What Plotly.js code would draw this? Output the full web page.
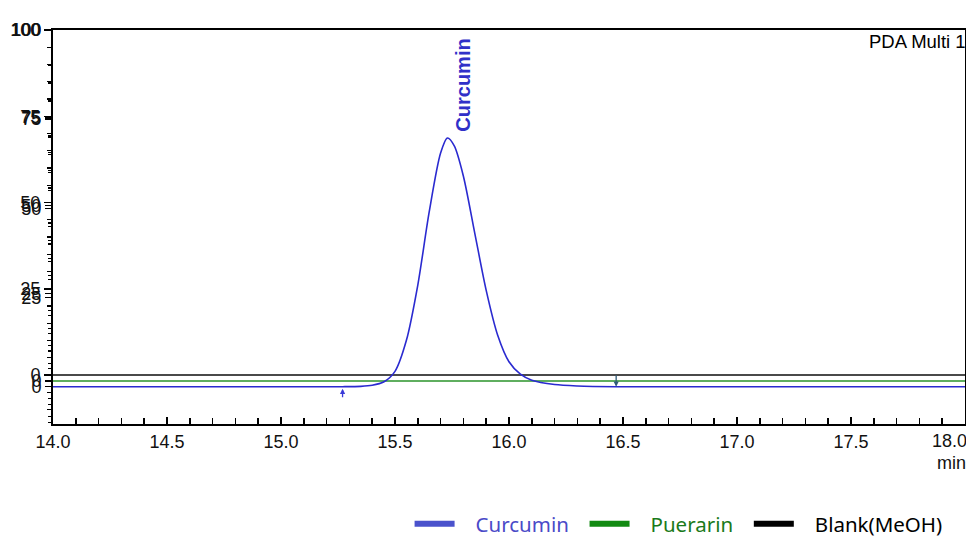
<!DOCTYPE html>
<html>
<head>
<meta charset="utf-8">
<script src="https://cdn.plot.ly/plotly-3.0.1.min.js"></script>
<style>html,body{margin:0;padding:0;background:#fff;}#chart{width:966px;height:538px;}</style>
</head>
<body>
<div id="chart"></div>
<script>
// Data (retention time in min, signal in mAU)
const curcuminTime   = [14.0, 15.27, 15.35, 15.40, 15.45, 15.50, 15.55, 15.60, 15.65, 15.70, 15.73, 15.76, 15.80, 15.85, 15.90, 15.95, 16.00, 16.05, 16.10, 16.20, 16.30, 16.47, 18.0];
const curcuminSignal = [0, 0, 0.1, 0.4, 1.3, 4.3, 13, 28.5, 49, 65.5, 69.7, 67.5, 59, 43, 27, 14.5, 7, 3.5, 1.8, 0.6, 0.2, 0, 0];
const puerarinTime   = [14.0, 18.0];
const puerarinSignal = [0, 0];
const blankTime      = [14.0, 18.0];
const blankSignal    = [0, 0];
const yTickVals      = [0, 25, 50, 75, 100];
const xLastTick      = 18.0;
const peakStart      = 15.27;
const peakEnd        = 16.47;
const peakLabelTime  = 15.80;

const tickFont = {family: 'Liberation Sans, Arial, sans-serif', size: 18, color: '#111'};
const pad = '\u00a0\u00a0\u00a0';
const tail = '\u00a0\u00a0';

const traces = [
  {x: blankTime, y: blankSignal, yaxis: 'y', mode: 'lines', line: {color: '#4a4a4a', width: 2}, showlegend: false, hoverinfo: 'skip'},
  {x: puerarinTime, y: puerarinSignal, yaxis: 'y2', mode: 'lines', line: {color: '#5fae5f', width: 2}, showlegend: false, hoverinfo: 'skip'},
  {x: curcuminTime, y: curcuminSignal, yaxis: 'y3', mode: 'lines', line: {color: '#2a2ad0', width: 1.6, shape: 'spline', smoothing: 0.8}, showlegend: false, hoverinfo: 'skip'},
  // legend entries
  {x: [null], y: [null], mode: 'lines', line: {color: '#4a52cc', width: 6}, name: '<span style="color:#4a4ac8">' + pad + 'Curcumin' + tail + '</span>'},
  {x: [null], y: [null], mode: 'lines', line: {color: '#128a12', width: 6}, name: '<span style="color:#1a7a1a">' + pad + 'Puerarin' + tail + '</span>'},
  {x: [null], y: [null], mode: 'lines', line: {color: '#000000', width: 6}, name: pad + 'Blank(MeOH)'}
];

function yAx(range, extra) {
  return Object.assign({
    range: range, tickvals: yTickVals, ticks: 'outside', ticklen: 7, tickwidth: 1.5, tickcolor: '#000',
    showgrid: false, zeroline: false, tickfont: tickFont,
    minor: {dtick: 5, ticks: 'outside', ticklen: 4, tickcolor: '#000', tickwidth: 1.2, showgrid: false}
  }, extra || {});
}

const layout = {
  width: 966, height: 538,
  margin: {l: 53, r: 1, t: 30, b: 114},
  paper_bgcolor: '#fff', plot_bgcolor: '#fff',
  showlegend: true,
  legend: {orientation: 'h', xref: 'container', yref: 'container', x: 0.424, xanchor: 'left', y: 0.026, yanchor: 'middle',
           font: {family: 'Noto Sans, Open Sans, sans-serif', size: 20.5, color: '#000'},
           itemwidth: 40, traceorder: 'normal'},
  xaxis: {range: [14.0, 18.0], tick0: 14, dtick: 0.5, tickformat: '.1f', ticks: 'inside', ticklen: 7, tickwidth: 1.5, tickcolor: '#000',
          ticklabeloverflow: 'hide past div',
          showline: true, linecolor: '#000', linewidth: 2, mirror: true, showgrid: false, zeroline: false, tickfont: tickFont,
          minor: {dtick: 0.1, tick0: 14, ticks: 'inside', ticklen: 6, tickcolor: '#000', tickwidth: 1.5, showgrid: false}},
  yaxis: yAx([-14.2, 100], {showline: true, linecolor: '#000', linewidth: 2, mirror: true}),
  yaxis2: yAx([-12.25, 100], {overlaying: 'y', side: 'left'}),
  yaxis3: yAx([-10.46, 100], {overlaying: 'y', side: 'left'}),
  annotations: [
    {x: peakLabelTime, y: 84.5, xref: 'x', yref: 'y3', text: '<b>Curcumin</b>', textangle: -90, showarrow: false,
     font: {family: 'Liberation Sans, Arial, sans-serif', size: 20, color: '#3030c8'}},
    {x: 1, y: 1, xref: 'paper', yref: 'paper', xanchor: 'right', yanchor: 'top', yshift: 1, xshift: 3, text: 'PDA Multi 1', showarrow: false,
     font: {family: 'Liberation Sans, Arial, sans-serif', size: 18.5, color: '#000'}},
    {x: xLastTick, y: 0, xref: 'x', yref: 'paper', xanchor: 'right', yanchor: 'top', yshift: -5, xshift: 4, text: xLastTick.toFixed(1), showarrow: false,
     font: tickFont},
    {x: 1, y: 0, xref: 'paper', yref: 'paper', xanchor: 'right', yanchor: 'top', yshift: -27, xshift: 3, text: 'min', showarrow: false,
     font: tickFont},
    {x: peakStart, y: 0, xref: 'x', yref: 'y3', ax: 0, ay: 12, showarrow: true, arrowhead: 2, arrowsize: 0.8, arrowwidth: 1.3,
     arrowcolor: '#3a3ad8', text: '', standoff: 2},
    {x: peakEnd, y: 0, xref: 'x', yref: 'y3', ax: 0, ay: -13, showarrow: true, arrowhead: 2, arrowsize: 0.8, arrowwidth: 1.3,
     arrowcolor: '#2f5a78', text: ''}
  ]
};

Plotly.newPlot('chart', traces, layout, {displayModeBar: false, staticPlot: true});
</script>
</body>
</html>
